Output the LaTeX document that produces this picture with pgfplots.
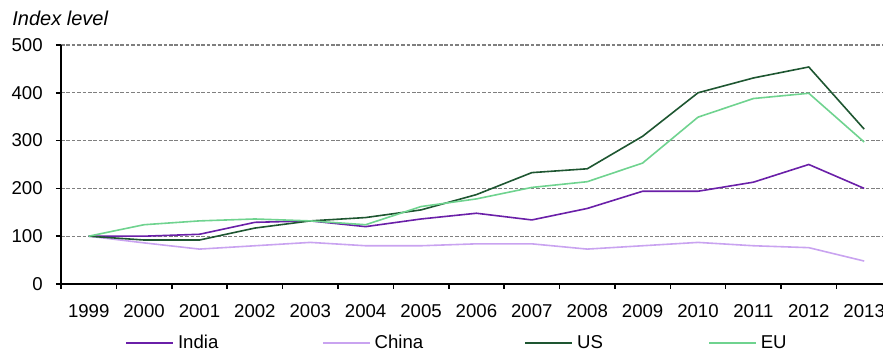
\documentclass[border=0pt]{standalone}
\usepackage{pgfplots}
\pgfplotsset{compat=1.18}
\usepackage{fontspec}
\setmainfont{Liberation Sans}
\definecolor{india}{HTML}{6A1FA8}
\definecolor{china}{HTML}{C9A3F0}
\definecolor{us}{HTML}{1E5631}
\definecolor{eu}{HTML}{6FD38F}
\definecolor{gridgray}{HTML}{7F7F7F}
\begin{document}
\fontsize{9}{11}\selectfont
\begin{tikzpicture}
\begin{axis}[
  width=411pt, height=119.5pt, scale only axis,
  xmin=-0.5, xmax=14.34, ymin=0, ymax=500,
  axis lines=left, axis line style={-, line width=0.8pt, black},
  ytick={0,100,...,500},
  ymajorgrids, grid style={gridgray, line width=0.6pt, dash pattern=on 1.8pt off 0.9pt},
  xtick={-0.5,0.5,...,13.5}, xticklabels={},
  extra x ticks={0,...,14},
  extra x tick labels={1999,2000,2001,2002,2003,2004,2005,2006,2007,2008,2009,2010,2011,2012,2013},
  extra x tick style={tick style={draw=none}, grid=none},
  tick align=outside, major tick length=2.5pt,
  tick style={black, line width=0.8pt},
  tick label style={font=\fontsize{9.3}{11}\selectfont},
  xticklabel style={yshift=-4.5pt},
  yticklabel style={xshift=-3.5pt},
  /pgf/number format/assume math mode=true,
  clip=false,
  legend columns=4,
  legend style={at={(0.0779,-0.248)}, anchor=west, draw=none, fill=none, inner xsep=0pt, inner ysep=0pt,
    font=\fontsize{9.3}{11}\selectfont,
    /tikz/every even column/.append style={column sep=0pt}},
  legend image code/.code={\draw[#1] (0pt,0pt) -- (23.5pt,0pt);},
  every axis plot/.append style={line width=0.8pt},
]
\addplot[india] coordinates {(0,100)(1,100)(2,104)(3,129)(4,132)(5,120)(6,136)(7,148)(8,134)(9,158)(10,194)(11,194)(12,213)(13,250)(14,200)};
\addlegendentry{\makebox[70pt][l]{India}}
\addplot[china] coordinates {(0,100)(1,86)(2,73)(3,80)(4,87)(5,80)(6,80)(7,84)(8,84)(9,73)(10,80)(11,87)(12,80)(13,76)(14,48)};
\addlegendentry{\makebox[73pt][l]{China}}
\addplot[us] coordinates {(0,100)(1,92)(2,92)(3,117)(4,132)(5,139)(6,155)(7,187)(8,233)(9,241)(10,309)(11,400)(12,431)(13,454)(14,324)};
\addlegendentry{\makebox[63.5pt][l]{US}}
\addplot[eu] coordinates {(0,100)(1,124)(2,132)(3,136)(4,132)(5,124)(6,162)(7,178)(8,202)(9,214)(10,253)(11,349)(12,388)(13,399)(14,297)};
\addlegendentry{EU}
\end{axis}
\node[anchor=west, inner sep=0pt, font=\itshape\fontsize{10}{12}\selectfont] at (-24.5pt,133pt) {Index level};
\pgfresetboundingbox
\useasboundingbox (-30.5pt,-33.5pt) rectangle (411pt,142pt);
\end{tikzpicture}
\end{document}
